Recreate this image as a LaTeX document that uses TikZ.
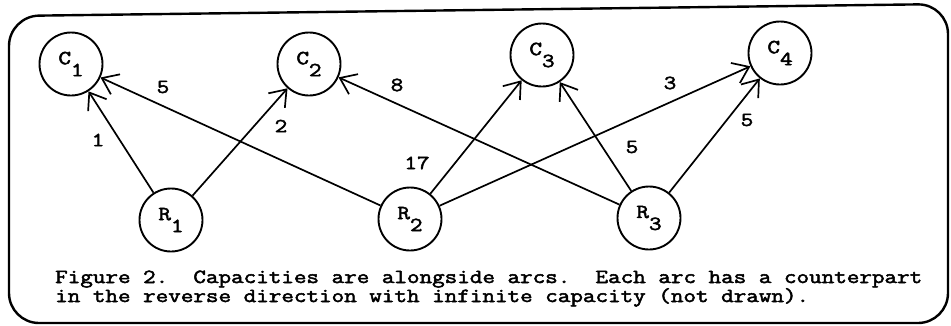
\documentclass[tikz,border=0pt]{standalone}
\usepackage{fontspec}
\setmonofont{Latin Modern Mono}[FakeStretch=1.22,FakeBold=2.5]
\usetikzlibrary{arrows.meta}
\begin{document}
\begin{tikzpicture}[x=1pt,y=-1pt,
  font=\ttfamily\fontsize{20}{19}\selectfont,
  vtx/.style={circle,draw,line width=1.9pt,minimum size=63pt,inner sep=0pt},
  arc/.style={line width=1.7pt,-{Straight Barb[length=15pt,width=22pt,line width=1.7pt]}},
  lab/.style={inner sep=0pt},
  captext/.style={inner sep=0pt,anchor=base west}]
\useasboundingbox (0,0) rectangle (951,325);
% frame
\draw[line width=2.4pt,rounded corners=30pt] (9,323) -- (9,16) -- (948,4) -- (948,323) -- cycle;
% nodes
\node[vtx] (C1) at (71,64) {C\raisebox{-12pt}{1}};
\node[vtx] (C2) at (309,64) {C\raisebox{-12pt}{2}};
\node[vtx] (C3) at (542,55) {C\raisebox{-12pt}{3}};
\node[vtx] (C4) at (780,53) {C\raisebox{-12pt}{4}};
\node[vtx] (R1) at (171,220) {R\raisebox{-12pt}{1}};
\node[vtx] (R2) at (410,219) {R\raisebox{-12pt}{2}};
\node[vtx] (R3) at (649,218) {R\raisebox{-12pt}{3}};
% arcs
\draw[arc] (R1) -- (C1);
\draw[arc] (R1) -- (C2);
\draw[arc] (R2) -- (C1);
\draw[arc] (R2) -- (C3);
\draw[arc] (R2) -- (C4);
\draw[arc] (R3) -- (C2);
\draw[arc] (R3) -- (C3);
\draw[arc] (R3) -- (C4);
% capacities
\node[lab] (l1) at (98,140) {1};
\node[lab] (l2) at (281,126) {2};
\node[lab] (l3) at (163,87) {5};
\node[lab] (l4) at (397,85) {8};
\node[lab] (l5) at (417,163) {17};
\node[lab] (l6) at (670,83) {3};
\node[lab] (l7) at (632,147) {5};
\node[lab] (l8) at (747,120) {5};
% caption
\node[captext] (cap1) at (55,283) {Figure 2.\ \ Capacities are alongside arcs.\ \ Each arc has a counterpart};
\node[captext] (cap2) at (55,302) {in the reverse direction with infinite capacity (not drawn).};
\end{tikzpicture}
\end{document}
